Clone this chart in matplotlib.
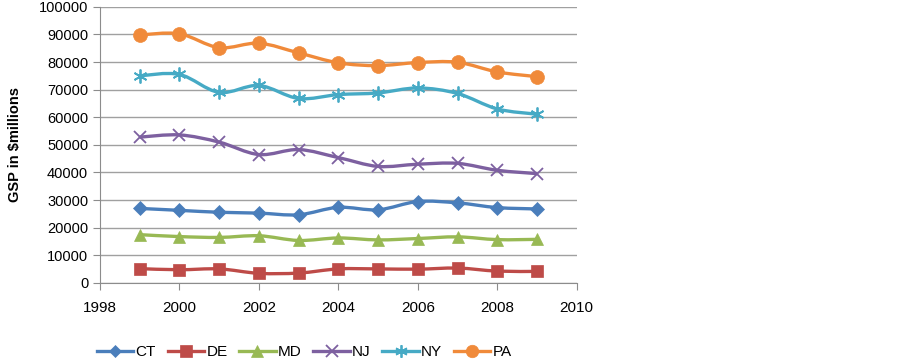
import numpy as np
import matplotlib
matplotlib.use('Agg')
from matplotlib import pyplot as plt
from matplotlib.path import Path
from matplotlib.patches import PathPatch
from matplotlib.lines import Line2D

plt.rcParams['font.family'] = ['Liberation Sans', 'DejaVu Sans']

years = [1999, 2000, 2001, 2002, 2003, 2004, 2005, 2006, 2007, 2008, 2009]
ct = [27000, 26300, 25600, 25300, 24700, 27400, 26500, 29500, 29000, 27300, 26800]
de = [5200, 4800, 5100, 3500, 3600, 5100, 5100, 5000, 5400, 4300, 4200]
md = [17500, 16800, 16500, 17100, 15400, 16300, 15600, 16100, 16700, 15700, 15800]
nj = [52800, 53600, 51000, 46500, 48300, 45400, 42200, 43000, 43300, 40800, 39600]
ny = [75000, 75500, 69000, 71500, 66800, 68200, 68800, 70600, 68600, 63000, 61100]
pa = [89800, 90200, 85200, 86800, 83300, 79700, 78700, 79800, 79900, 76400, 74700]

names = ['CT', 'DE', 'MD', 'NJ', 'NY', 'PA']
colors = ['#4A7EBB', '#BE4B48', '#98B954', '#7D60A0', '#46AAC5', '#F08A3A']
markers = ['D', 's', '^', 'x', (6, 2, 0), 'o']
msizes = [7, 9, 9, 9, 10, 10]


def smooth_path(x, y, t=1/6.):
    # excel-style smoothed line: catmull-rom as cubic bezier segments
    x = np.asarray(x, float)
    y = np.asarray(y, float)
    verts = [(x[0], y[0])]
    codes = [Path.MOVETO]
    n = len(x)
    for i in range(n - 1):
        p0 = i - 1 if i > 0 else i
        p3 = i + 2 if i + 2 < n else i + 1
        c1 = (x[i] + (x[i + 1] - x[p0]) * t, y[i] + (y[i + 1] - y[p0]) * t)
        c2 = (x[i + 1] - (x[p3] - x[i]) * t, y[i + 1] - (y[p3] - y[i]) * t)
        verts += [c1, c2, (x[i + 1], y[i + 1])]
        codes += [Path.CURVE4] * 3
    return Path(verts, codes)


fig = plt.figure(figsize=(9.03, 3.63), dpi=100)
ax = fig.add_axes([0.1107, 0.2204, 0.528, 0.761])

series = [ct, de, md, nj, ny, pa]
handles = []
for vals, name, c, m, ms in zip(series, names, colors, markers, msizes):
    ax.add_patch(PathPatch(smooth_path(years, vals), fill=False, edgecolor=c,
                           lw=2.4, zorder=3))
    mew = 1.3 if m in ('x', (6, 2, 0)) else 0.5
    ax.plot(years, vals, ls='none', marker=m, ms=ms, color=c, mec=c,
            mew=mew, zorder=4)
    handles.append(Line2D([], [], color=c, lw=2.4, marker=m, ms=ms - 1,
                          mec=c, mew=mew))

ax.set_xlim(1998, 2010)
ax.set_ylim(0, 100000)
ax.set_xticks(range(1998, 2011, 2))
ax.set_yticks(range(0, 100001, 10000))
ax.grid(axis='y', color='#A0A0A0', lw=1.0)
ax.set_axisbelow(True)
for s in ['top', 'right']:
    ax.spines[s].set_visible(False)
ax.spines['left'].set_color('#8C8C8C')
ax.spines['bottom'].set_color('#8C8C8C')
ax.tick_params(axis='both', color='#8C8C8C', length=5, labelsize=10.5)
ax.tick_params(axis='x', pad=8, labelsize=11)
ax.set_ylabel('GSP in $millions', fontsize=10.5, fontweight='bold', labelpad=12)

fig.legend(handles, names, loc='center', bbox_to_anchor=(0.337, 0.03),
           ncol=6, frameon=False, fontsize=11, handlelength=2.4,
           columnspacing=0.75, handletextpad=0.15)

plt.savefig('out.png', dpi=100)
